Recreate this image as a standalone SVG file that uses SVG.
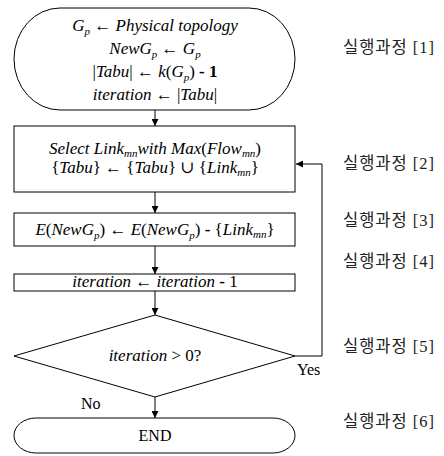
<svg xmlns="http://www.w3.org/2000/svg" width="444" height="456" viewBox="0 0 444 456">
  <style>
    .shape { fill: #fff; stroke: #000; stroke-width: 1; }
    .wire { fill: none; stroke: #000; stroke-width: 1; }
    .m { font-family: "Liberation Serif", "DejaVu Serif", serif; font-size: 17px; font-style: italic; fill: #000; }
    .up { font-style: normal; }
    .b { font-style: normal; font-weight: bold; }
    .sub { font-size: 11px; }
    .lbl { font-family: "Liberation Serif", "DejaVu Serif", serif; font-size: 16px; fill: #000; }
    .step { font-family: "Liberation Serif", "Noto Sans CJK KR", serif; font-size: 16.5px; fill: #222; letter-spacing: 1px; }
  </style>
  <defs>
    <marker id="arrow" viewBox="0 0 8 8" refX="8" refY="4" markerWidth="7" markerHeight="7" markerUnits="userSpaceOnUse" orient="auto">
      <path d="M0,0 L8,4 L0,8 z" fill="#000"/>
    </marker>
  </defs>

  <g id="connectors">
    <line class="wire" x1="155" y1="110" x2="155" y2="126" marker-end="url(#arrow)"/>
    <line class="wire" x1="155" y1="192" x2="155" y2="213" marker-end="url(#arrow)"/>
    <line class="wire" x1="155" y1="246" x2="155" y2="274" marker-end="url(#arrow)"/>
    <line class="wire" x1="155" y1="291" x2="155" y2="315" marker-end="url(#arrow)"/>
    <line class="wire" x1="155" y1="397" x2="155" y2="418" marker-end="url(#arrow)"/>
    <polyline class="wire" points="295,356 322,356 322,164 296,164" marker-end="url(#arrow)"/>
    <text class="lbl" x="297" y="375">Yes</text>
    <text class="lbl" x="81" y="409">No</text>
  </g>

  <g id="start">
    <rect class="shape" x="14" y="8" width="281" height="102" rx="46" ry="51"/>
    <text class="m" x="155" y="31" text-anchor="middle">G<tspan class="sub" dy="4">p</tspan><tspan dy="-4" class="up"> ← </tspan>Physical topology</text>
    <text class="m" x="155" y="54" text-anchor="middle">NewG<tspan class="sub" dy="4">p</tspan><tspan dy="-4" class="up"> ← </tspan>G<tspan class="sub" dy="4">p</tspan></text>
    <text class="m" x="155" y="77" text-anchor="middle"><tspan class="up">|</tspan>Tabu<tspan class="up">| ← </tspan>k<tspan class="up">(</tspan>G<tspan class="sub" dy="4">p</tspan><tspan class="up" dy="-4">)</tspan><tspan class="b"> - 1</tspan></text>
    <text class="m" x="155" y="100" text-anchor="middle">iteration<tspan class="up"> ← |</tspan>Tabu<tspan class="up">|</tspan></text>
  </g>

  <g id="select">
    <rect class="shape" x="14" y="126" width="281" height="66"/>
    <text class="m" x="155" y="154" text-anchor="middle">Select Link<tspan class="sub" dy="3">mn</tspan><tspan dy="-3">with Max</tspan><tspan class="up">(</tspan>Flow<tspan class="sub" dy="3">mn</tspan><tspan class="up" dy="-3">)</tspan></text>
    <text class="m" x="155" y="173" text-anchor="middle"><tspan class="up">{</tspan>Tabu<tspan class="up">} ← {</tspan>Tabu<tspan class="up">} ∪ {</tspan>Link<tspan class="sub" dy="3">mn</tspan><tspan class="up" dy="-3">}</tspan></text>
  </g>

  <g id="remove">
    <rect class="shape" x="14" y="213" width="281" height="33"/>
    <text class="m" x="155" y="235" text-anchor="middle">E<tspan class="up">(</tspan>NewG<tspan class="sub" dy="4">p</tspan><tspan class="up" dy="-4">) ← </tspan>E<tspan class="up">(</tspan>NewG<tspan class="sub" dy="4">p</tspan><tspan class="up" dy="-4">) </tspan><tspan class="b">-</tspan><tspan class="up"> {</tspan>Link<tspan class="sub" dy="3">mn</tspan><tspan class="up" dy="-3">}</tspan></text>
  </g>

  <g id="decrement">
    <rect class="shape" x="14" y="274" width="281" height="17"/>
    <text class="m" x="155" y="287" text-anchor="middle">iteration<tspan class="up"> ← </tspan>iteration<tspan class="b"> -</tspan><tspan class="up"> 1</tspan></text>
  </g>

  <g id="check">
    <polygon class="shape" points="155,315 295,356 155,397 14,356"/>
    <text class="m" x="155" y="361" text-anchor="middle">iteration<tspan class="up"> &gt; 0?</tspan></text>
  </g>

  <g id="end">
    <rect class="shape" x="14" y="418" width="281" height="35" rx="22" ry="17.5"/>
    <text class="lbl" x="155" y="441" text-anchor="middle">END</text>
  </g>

  <g id="steps">
    <text class="step" x="343" y="53">실행과정 [1]</text>
    <text class="step" x="343" y="169">실행과정 [2]</text>
    <text class="step" x="343" y="226">실행과정 [3]</text>
    <text class="step" x="343" y="267">실행과정 [4]</text>
    <text class="step" x="343" y="352">실행과정 [5]</text>
    <text class="step" x="343" y="427">실행과정 [6]</text>
  </g>
</svg>
